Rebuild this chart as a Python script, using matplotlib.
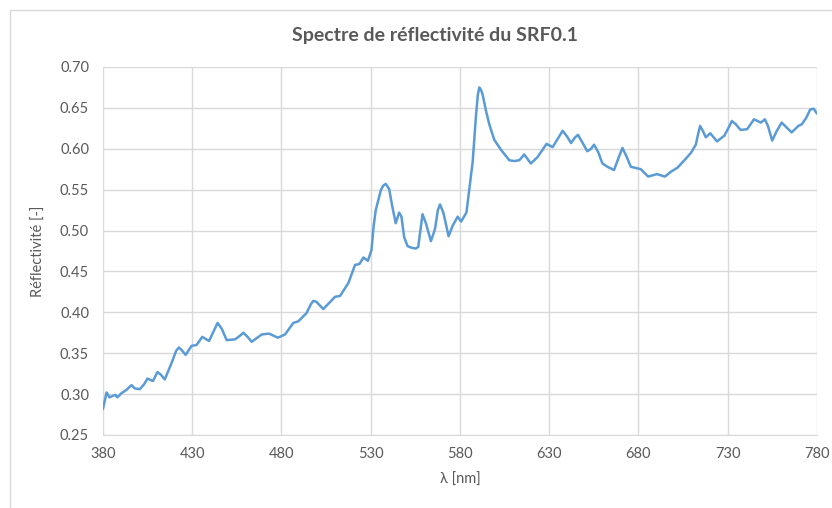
import matplotlib.pyplot as plt
from matplotlib.patches import Rectangle

# spectre de reflectivite mesure (lambda en nm, reflectivite sans unite)
wavelength = [380, 382, 383.7, 385.6, 386.9, 388, 390.3, 393, 396, 397.8,
              400.6, 403, 404.9, 408, 410.5, 412.3, 414.6, 418.4, 421, 422.5,
              424, 426.3, 429.6, 432.4, 435.6, 439.4, 442, 444.2, 446.5, 449.3,
              454, 456.5, 458.7, 461, 463.3, 469, 473, 478, 482, 486.6,
              489.4, 494, 496.5, 497.8, 499.5, 503.4, 510, 512.8, 517.5, 521.2,
              523.6, 525.9, 528.4, 530.4, 531.6, 532.8, 535.6, 537, 538.4, 540.3,
              542.1, 544, 545.9, 547.2, 548.7, 550.6, 552.8, 555.3, 556.6, 557.8,
              559, 560.9, 563.7, 566, 567.6, 568.8, 570.8, 573.6, 575.9, 578.7,
              580.6, 583.6, 585.8, 587.1, 589, 590, 590.8, 591.8, 592.7, 594.6,
              596.4, 599.2, 602.9, 607.6, 610.4, 613.2, 616, 619.7, 623.5, 628.5,
              631.9, 635, 637.5, 640, 642.2, 644.5, 646.1, 648.5, 651.3, 653.4,
              655.1, 657.4, 659.8, 662.6, 666.3, 669, 671, 673, 675.7, 681.3,
              685.4, 690.3, 694.8, 698.2, 701.9, 705.7, 709.4, 712.1, 713.4, 714.5,
              716, 717.7, 720.2, 724, 728.1, 730.5, 732.3, 734.5, 737.2, 740.9,
              744.7, 748.5, 750.8, 752.5, 754.9, 757.5, 760.2, 765.8, 769.6, 771.5,
              774, 776.2, 778.1, 780]
reflectivity = [0.282, 0.302, 0.296, 0.298, 0.299, 0.296, 0.301, 0.305, 0.311, 0.307,
                0.306, 0.312, 0.319, 0.316, 0.327, 0.324, 0.318, 0.338, 0.353, 0.357,
                0.354, 0.348, 0.359, 0.360, 0.370, 0.365, 0.377, 0.387, 0.380, 0.366,
                0.367, 0.371, 0.375, 0.370, 0.364, 0.373, 0.374, 0.369, 0.373, 0.387,
                0.389, 0.399, 0.410, 0.414, 0.413, 0.404, 0.419, 0.420, 0.436, 0.458,
                0.459, 0.467, 0.463, 0.476, 0.505, 0.525, 0.549, 0.555, 0.557, 0.551,
                0.529, 0.509, 0.522, 0.517, 0.492, 0.481, 0.479, 0.478, 0.480, 0.500,
                0.520, 0.509, 0.487, 0.502, 0.525, 0.532, 0.521, 0.493, 0.506, 0.517,
                0.511, 0.522, 0.561, 0.584, 0.642, 0.666, 0.675, 0.672, 0.666, 0.646,
                0.630, 0.611, 0.599, 0.586, 0.585, 0.586, 0.593, 0.582, 0.590, 0.606,
                0.602, 0.613, 0.622, 0.615, 0.607, 0.614, 0.617, 0.608, 0.597, 0.600,
                0.605, 0.596, 0.582, 0.578, 0.574, 0.590, 0.601, 0.592, 0.578, 0.575,
                0.566, 0.569, 0.566, 0.572, 0.577, 0.586, 0.595, 0.605, 0.618, 0.628,
                0.622, 0.614, 0.619, 0.609, 0.616, 0.626, 0.634, 0.630, 0.623, 0.624,
                0.636, 0.632, 0.636, 0.628, 0.610, 0.622, 0.632, 0.620, 0.628, 0.630,
                0.638, 0.648, 0.649, 0.643]

x_ticks = list(range(380, 781, 50))
y_ticks = [0.25, 0.30, 0.35, 0.40, 0.45, 0.50, 0.55, 0.60, 0.65, 0.70]

plt.rcParams['font.family'] = ['Lato', 'DejaVu Sans']
text_color = '#595959'
grid_color = '#D9D9D9'

fig = plt.figure(figsize=(8.32, 5.08), dpi=100)
ax = fig.add_axes([103 / 832, 1 - 435 / 508, 714 / 832, 368 / 508])

# cadre du graphique
fig.patches.append(Rectangle((10 / 832, -0.1), 1.1, 1 - 10 / 508 + 0.1,
                             transform=fig.transFigure, fill=False,
                             edgecolor='#D9D9D9', linewidth=1))

ax.plot(wavelength, reflectivity, color='#5B9BD5', linewidth=1.8,
        solid_joinstyle='round', solid_capstyle='round', zorder=3)

ax.set_xlim(380, 780)
ax.set_ylim(0.25, 0.70)
ax.set_xticks(x_ticks)
ax.set_yticks(y_ticks)
ax.set_yticklabels(['{:.2f}'.format(v) for v in y_ticks])
ax.grid(True, color=grid_color, linewidth=1)
ax.set_axisbelow(True)
for side in ['top', 'right', 'left']:
    ax.spines[side].set_visible(False)
ax.spines['bottom'].set_color(grid_color)
ax.tick_params(length=0, labelsize=10.5, colors=text_color, pad=10)
ax.tick_params(axis='x', pad=9)

ax.set_xlabel('λ [nm]', fontsize=10.5, color=text_color, labelpad=8)
ax.set_ylabel('Réflectivité [-]', fontsize=10.5, color=text_color, labelpad=10)

fig.text(435 / 832, 1 - 36 / 508, 'Spectre de réflectivité du SRF0.1',
         ha='center', va='center', fontsize=14, fontweight='bold', color=text_color)

fig.savefig('out.png', dpi=100, facecolor='white')
